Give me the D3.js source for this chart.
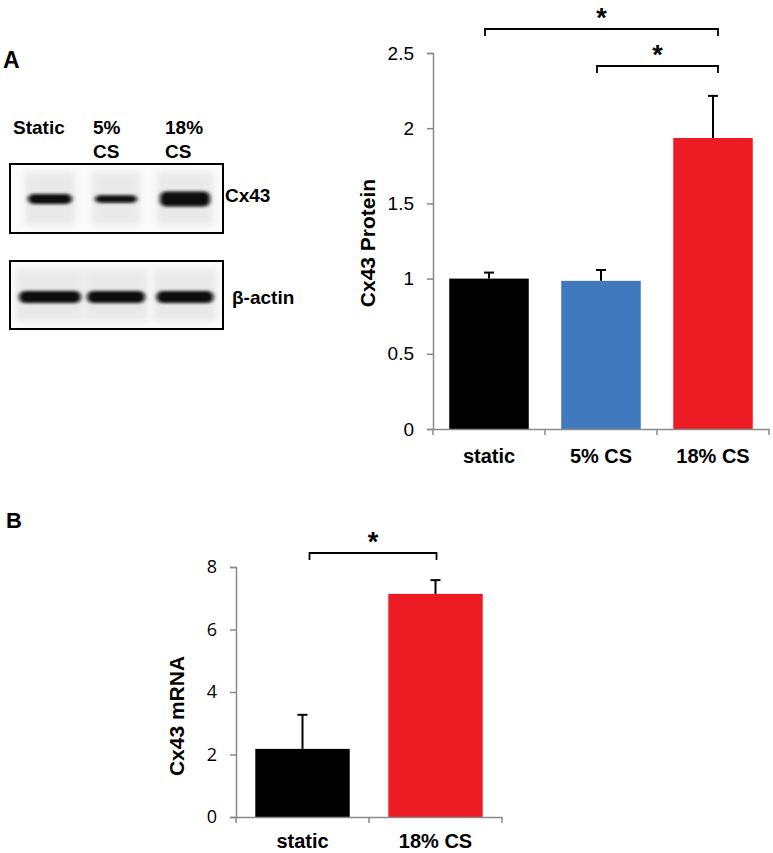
<!DOCTYPE html>
<html>
<head>
<meta charset="utf-8">
<script src="https://cdn.jsdelivr.net/npm/d3@7"></script>
<style>
  body { margin: 0; background: #fff; }
  svg { display: block; }
  .axis path, .axis line { stroke: #8a8a8a; stroke-width: 1.5; }
  .axis text { fill: #000; }
</style>
</head>
<body>
<svg id="fig" width="773" height="853"></svg>
<script>
// panel A chart data
const protCats = ["static", "5% CS", "18% CS"];
const protVals = [1.0, 0.985, 1.935];
const protErr  = [0.04, 0.072, 0.28];
const protTicks = [0, 0.5, 1, 1.5, 2, 2.5];
const protColors = ["#000000", "#4079bd", "#ed1c24"];

// panel B chart data
const mrnaCats = ["static", "18% CS"];
const mrnaVals = [2.18, 7.14];
const mrnaErr  = [1.09, 0.44];
const mrnaTicks = [0, 2, 4, 6, 8];
const mrnaColors = ["#000000", "#ed1c24"];

// blot lanes (relative band thickness / width)
const blotLanes = ["Static", "5%|CS", "18%|CS"];
const cxBand   = [0.9, 0.7, 1.35];
const cxWidth  = [44, 42, 50];
const actBand  = [1.0, 1.0, 1.0];
const actWidth = [62, 58, 57];

const svg = d3.select("#fig");
const BOLD = "'Liberation Sans', Arial, sans-serif";

// blur filters for blot bands
const defs = svg.append("defs");
defs.append("filter").attr("id", "blur").attr("x", "-20%").attr("y", "-60%").attr("width", "140%").attr("height", "220%")
  .append("feGaussianBlur").attr("stdDeviation", "2 1.8");
defs.append("filter").attr("id", "blur2").attr("x", "-30%").attr("y", "-80%").attr("width", "160%").attr("height", "260%")
  .append("feGaussianBlur").attr("stdDeviation", "3.5 3");

// panel letters
svg.append("text").attr("x", 3).attr("y", 68).style("font", `bold 23px ${BOLD}`).text("A");
svg.append("text").attr("x", 6).attr("y", 528).style("font", `bold 22px ${BOLD}`).text("B");

// ---------- western blot ----------
const blot = svg.append("g");
const lanePos = d3.scaleOrdinal().domain(blotLanes).range([50, 116, 185]);
const lblX = [13, 93, 165];
blotLanes.forEach((l, i) => {
  l.split("|").forEach((p, j) => {
    blot.append("text").attr("x", lblX[i]).attr("y", 134 + j * 24)
      .style("font", `bold 19px ${BOLD}`).text(p);
  });
});

function drawBlot(y0, h, bands, widths, bandY, bandH, label, labelX, labelY) {
  const g = blot.append("g");
  g.append("rect").attr("x", 10).attr("y", y0).attr("width", 213).attr("height", h).attr("fill", "#fbfbfb");
  bands.forEach((b, i) => {
    const cx = lanePos(blotLanes[i]);
    g.append("rect").attr("x", cx - widths[i] / 2 - 3).attr("y", y0 + 8).attr("width", widths[i] + 6).attr("height", h - 16)
      .attr("fill", "#e9e9e9").attr("filter", "url(#blur2)");
  });
  bands.forEach((b, i) => {
    const cx = lanePos(blotLanes[i]);
    const w = widths[i];
    g.append("rect").attr("x", cx - w / 2).attr("y", bandY - bandH * b / 2).attr("width", w).attr("height", bandH * b)
      .attr("rx", 6).attr("fill", "#080808").attr("filter", "url(#blur)");
  });
  g.append("rect").attr("x", 10).attr("y", y0).attr("width", 213).attr("height", h)
    .attr("fill", "none").attr("stroke", "#000").attr("stroke-width", 2);
  blot.append("text").attr("x", labelX).attr("y", labelY).style("font", `bold 19px ${BOLD}`).text(label);
}
drawBlot(164, 69, cxBand, cxWidth, 199, 11, "Cx43", 225, 202);
drawBlot(261, 68, actBand, actWidth, 297, 12, "β-actin", 232, 304);

// ---------- bar chart helper ----------
function barChart(o) {
  const g = svg.append("g");
  const x = d3.scaleBand().domain(o.cats).range([o.x0, o.x1]).paddingInner(0.29).paddingOuter(0.145);
  const y = d3.scaleLinear().domain([0, o.ymax]).range([o.y0, o.y1]);
  const cx = i => x(o.cats[i]) + x.bandwidth() / 2;

  g.selectAll("rect.bar").data(o.vals).join("rect").attr("class", "bar")
    .attr("x", (d, i) => x(o.cats[i])).attr("width", x.bandwidth())
    .attr("y", d => y(d)).attr("height", d => y(0) - y(d))
    .attr("fill", (d, i) => o.colors[i]);

  // error bars (upper half only)
  const eb = g.selectAll("g.err").data(o.vals).join("g").attr("class", "err");
  eb.append("line")
    .attr("x1", (d, i) => cx(i)).attr("x2", (d, i) => cx(i))
    .attr("y1", d => y(d)).attr("y2", (d, i) => y(d + o.err[i]))
    .attr("stroke", "#000").attr("stroke-width", 2);
  eb.append("line")
    .attr("x1", (d, i) => cx(i) - 5).attr("x2", (d, i) => cx(i) + 5)
    .attr("y1", (d, i) => y(d + o.err[i])).attr("y2", (d, i) => y(d + o.err[i]))
    .attr("stroke", "#000").attr("stroke-width", 2);

  const ya = g.append("g").attr("class", "axis").attr("transform", `translate(${o.x0},0)`)
    .call(d3.axisLeft(y).tickValues(o.ticks).tickSize(6).tickSizeOuter(6).tickPadding(o.yPad).tickFormat(d3.format("")));
  ya.selectAll("text").style("font", o.tickFont);

  const xa = g.append("g").attr("class", "axis").attr("transform", `translate(0,${o.y0})`)
    .call(d3.axisBottom(x).tickSize(0).tickSizeOuter(0).tickPadding(o.xPad));
  xa.selectAll("text").style("font", `bold 20px ${BOLD}`);
  // tick marks between categories
  const bounds = o.cats.map(c => x(c) - x.step() * 0.145).concat([o.x1]);
  xa.selectAll("line.bd").data(bounds).join("line").attr("class", "bd")
    .attr("x1", d => d).attr("x2", d => d).attr("y1", 0).attr("y2", 6);

  g.append("text").attr("transform", `translate(${o.labX},${o.labY}) rotate(-90)`)
    .attr("text-anchor", "middle").style("font", `bold 21px ${BOLD}`).text(o.ylabel);

  // significance brackets
  o.brackets.forEach(b => {
    const xa_ = cx(b.a) + b.da;
    const xb_ = cx(b.b) + b.db;
    g.append("path").attr("d", `M${xa_},${b.y + 7}V${b.y}H${xb_}V${b.y + 7}`)
      .attr("fill", "none").attr("stroke", "#000").attr("stroke-width", 1.8);
    g.append("text").attr("x", (xa_ + xb_) / 2).attr("y", b.y - 2).attr("text-anchor", "middle")
      .style("font", `bold 27px ${BOLD}`).text("*");
  });
}

barChart({
  cats: protCats, vals: protVals, err: protErr, colors: protColors, ticks: protTicks,
  x0: 433, x1: 769, y0: 429, y1: 53, ymax: 2.5,
  tickFont: `19px ${BOLD}`, yPad: 13, xPad: 20,
  ylabel: "Cx43 Protein", labX: 375, labY: 243,
  brackets: [{ a: 0, b: 2, y: 29, da: -4, db: 5 }, { a: 1, b: 2, y: 66, da: -4, db: 5 }]
});

barChart({
  cats: mrnaCats, vals: mrnaVals, err: mrnaErr, colors: mrnaColors, ticks: mrnaTicks,
  x0: 236, x1: 502, y0: 817, y1: 567, ymax: 8,
  tickFont: "18px 'Open Sans', Lato, sans-serif", yPad: 13, xPad: 17,
  ylabel: "Cx43 mRNA", labX: 184, labY: 716,
  brackets: [{ a: 0, b: 1, y: 553, da: 7, db: 1 }]
});
</script>
</body>
</html>
